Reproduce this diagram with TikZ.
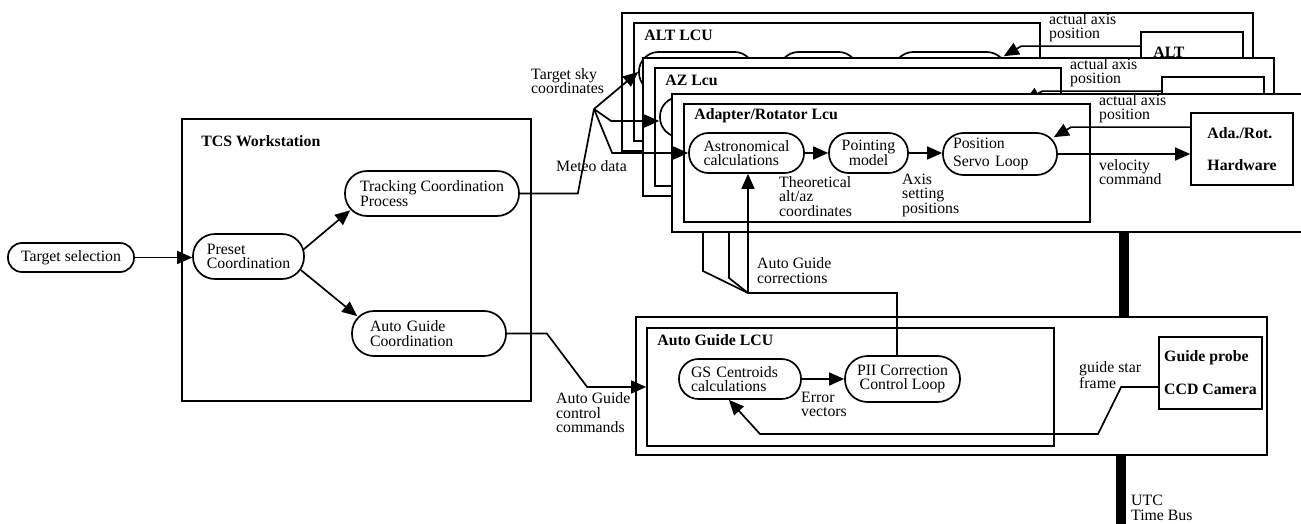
\documentclass[tikz,border=0pt]{standalone}
\usepackage{fontspec}
\setmainfont{Liberation Serif}
\usetikzlibrary{arrows.meta,calc}
\newcommand\dgfont{\fontsize{15.8pt}{14.5pt}\selectfont}
\tikzset{
  every node/.style={font=\dgfont, inner sep=0pt},
  sz/.style n args={2}{minimum width=#1pt, minimum height=#2pt},
  frame/.style={draw, fill=white, line width=1.7pt, rectangle},
  proc/.style={draw, fill=white, line width=1.7pt, rectangle, rounded corners=#1pt, align=center},
  hwbox/.style={frame, align=left, font=\dgfont\bfseries},
  lbl/.style={anchor=west, align=left},
  ttl/.style={anchor=west, font=\dgfont\bfseries},
  wire/.style={line width=1.7pt},
  arr/.style={wire, -{Triangle[length=15pt,width=13pt]}},
  bus/.style={line width=10pt},
}
% One axis control unit: frames, processes, hardware box and its loop.
% #1,#2 shift; #3 name prefix; #4 title; #5-#7 process texts; #8 hardware text
\newcommand\lcuunit[8]{%
  \begin{scope}[shift={(#1,#2)}]
    \node[frame, sz={631}{138}] (#3outer) at (987.5,163) {};
    \node[frame, sz={406}{118}] (#3inner) at (887,163) {};
    \node[ttl] (#3title) at ($(#3inner.north west)+(11,13)$) {#4};
    \node[proc=19.5, sz={115}{40}, align=left] (#3astro) at (746.5,153) {#5};
    \node[proc=19.5, sz={79}{40}] (#3point) at (868.5,153) {#6};
    \node[proc=20.5, sz={114}{42}, text width=94pt, align=left] (#3pos) at (1000,154) {#7};
    \node[hwbox, sz={102}{72}] (#3hw) at (1242,149) {#8};
    \draw[arr] (#3astro.east) -- (#3astro.east -| #3point.west);
    \draw[arr] (#3point.east) -- (#3point.east -| #3pos.west);
    \draw[arr] ($(#3hw.north west)+(0,15)$) -- ++(-119,0) -- ($(#3pos.north east)+(-4,5)$);
    \draw[arr] (#3pos.east) -- (#3pos.east -| #3hw.west);
    \node[lbl] (#3fb) at (1099,108.5) {actual axis\\position};
  \end{scope}}
\begin{document}
\begin{tikzpicture}[x=1pt, y=-1pt]
  \fill[white] (0,0) rectangle (1301,524);
  \useasboundingbox (0,0) rectangle (1301,524);

  % TCS workstation
  \node[frame, sz={349}{282}] (tcs) at (356.5,260) {};
  \node[ttl] (tcstitle) at ($(tcs.north west)+(20,23)$) {TCS Workstation};
  \node[proc=14, sz={126}{29}] (tsel) at (71,257.5) {Target selection};
  \node[proc=22, sz={111}{45}, align=left] (preset) at (248.5,256.5) {Preset\\Coordination};
  \node[proc=22, sz={174}{45}, align=left] (track) at (432,193.5) {Tracking Coordination\\Process};
  \node[proc=22, sz={154}{45}, text width=118pt, align=left] (agc) at (429,333.5) {Auto Guide\\Coordination};

  \draw[arr] (tsel.east) -- (tsel.east -| preset.west);
  \draw[arr] ($(preset.east)+(-2,-6.5)$) -- ($(track.south west)+(6,-6.5)$);
  \draw[arr] ($(preset.east)+(-4,13.5)$) -- ($(agc.north west)+(6,6)$);

  % Stacked axis units, back to front
  \lcuunit{-50}{-81}{alt}{ALT LCU}{}{}{}{}
  \node[ttl] (althwtext) at ($(althw.north west)+(13,21)$) {ALT};
  \lcuunit{-29}{-36}{az}{AZ Lcu}{}{}{}{}
  \lcuunit{0}{0}{ad}{Adapter/Rotator Lcu}{Astronomical\\calculations}{Pointing\\model}{Position\\[4pt]Servo Loop}{Ada./Rot.\\[17.5pt]Hardware}
  \node[lbl] (theo) at (779,196.5) {Theoretical\\alt/az\\coordinates};
  \node[lbl] (axis) at (902,195) {Axis\\setting\\positions};
  \node[lbl] (velo) at (1099,172) {velocity\\command};

  % Target and meteo data distribution
  \coordinate (J) at (594,109);
  \draw[wire] (track.east) -- ++(58,0) -- (J);
  \draw[arr] (J) -- (altastro.west);
  \draw[arr] (J) -- ($(azastro.west)+(-48,4)$) -- ($(azastro.west)+(0,4)$);
  \draw[arr] (J) -- ($(adastro.west)+(-76,0)$) -- (adastro.west);
  \node[lbl] (sky) at (531,81) {Target sky\\coordinates};
  \node[lbl] (meteo) at (556,166) {Meteo data};

  % Auto guide unit
  \node[frame, sz={631}{138}] (agout) at (951.5,386) {};
  \node[frame, sz={407}{118}] (agin) at (850.5,387) {};
  \node[ttl] (agtitle) at ($(agin.north west)+(11,13)$) {Auto Guide LCU};
  \node[proc=19.5, sz={122}{40}, text width=98pt, align=left] (gs) at (740,379) {GS Centroids\\calculations};
  \node[proc=22.5, sz={115}{46}] (pii) at (902.5,379) {PII Correction\\Control Loop};
  \node[hwbox, sz={103}{72}] (gp) at (1210.5,373) {Guide probe\\[18.5pt]CCD Camera};

  \draw[arr] (gs.east) -- (gs.east -| pii.west);
  \node[lbl] (err) at (801,404.5) {Error\\vectors};
  \draw[arr] ($(gp.west)+(0,14)$) -- ++(-37,0) -- (1098,434) -- (760,434) -- (gs.242);
  \node[lbl] (gsf) at (1079,375) {guide star\\frame};

  \draw[arr] (agc.east) -- ++(40,0) -- ($(agin.west)+(-59,0)$) -- (agin.west);
  \node[lbl] (agcmd) at (556,413) {Auto Guide\\control\\commands};

  % Auto guide corrections back to the axis units
  \coordinate (K) at (748,293);
  \coordinate (azcorr) at (729,278);
  \coordinate (altcorr) at (703,271);
  \draw[wire] ($(pii.north)+(-5.5,0)$) |- (K);
  \draw[arr] (K) -- (K |- adastro.south);
  \draw[wire] (K) -- (azcorr) -- (azcorr |- adouter.south);
  \draw[wire] (K) -- (altcorr) -- (altcorr |- adouter.south);
  \node[lbl] (corr) at (757,270.5) {Auto Guide\\corrections};

  % Time bus
  \coordinate (busx) at (1124,0);
  \draw[bus] (busx |- adouter.south) -- (busx |- agout.north);
  \coordinate (utc) at (1121,524);
  \draw[bus] (utc |- agout.south) -- (utc);
  \node[lbl] (utclbl) at (1131,508) {UTC\\Time Bus};
\end{tikzpicture}
\end{document}
